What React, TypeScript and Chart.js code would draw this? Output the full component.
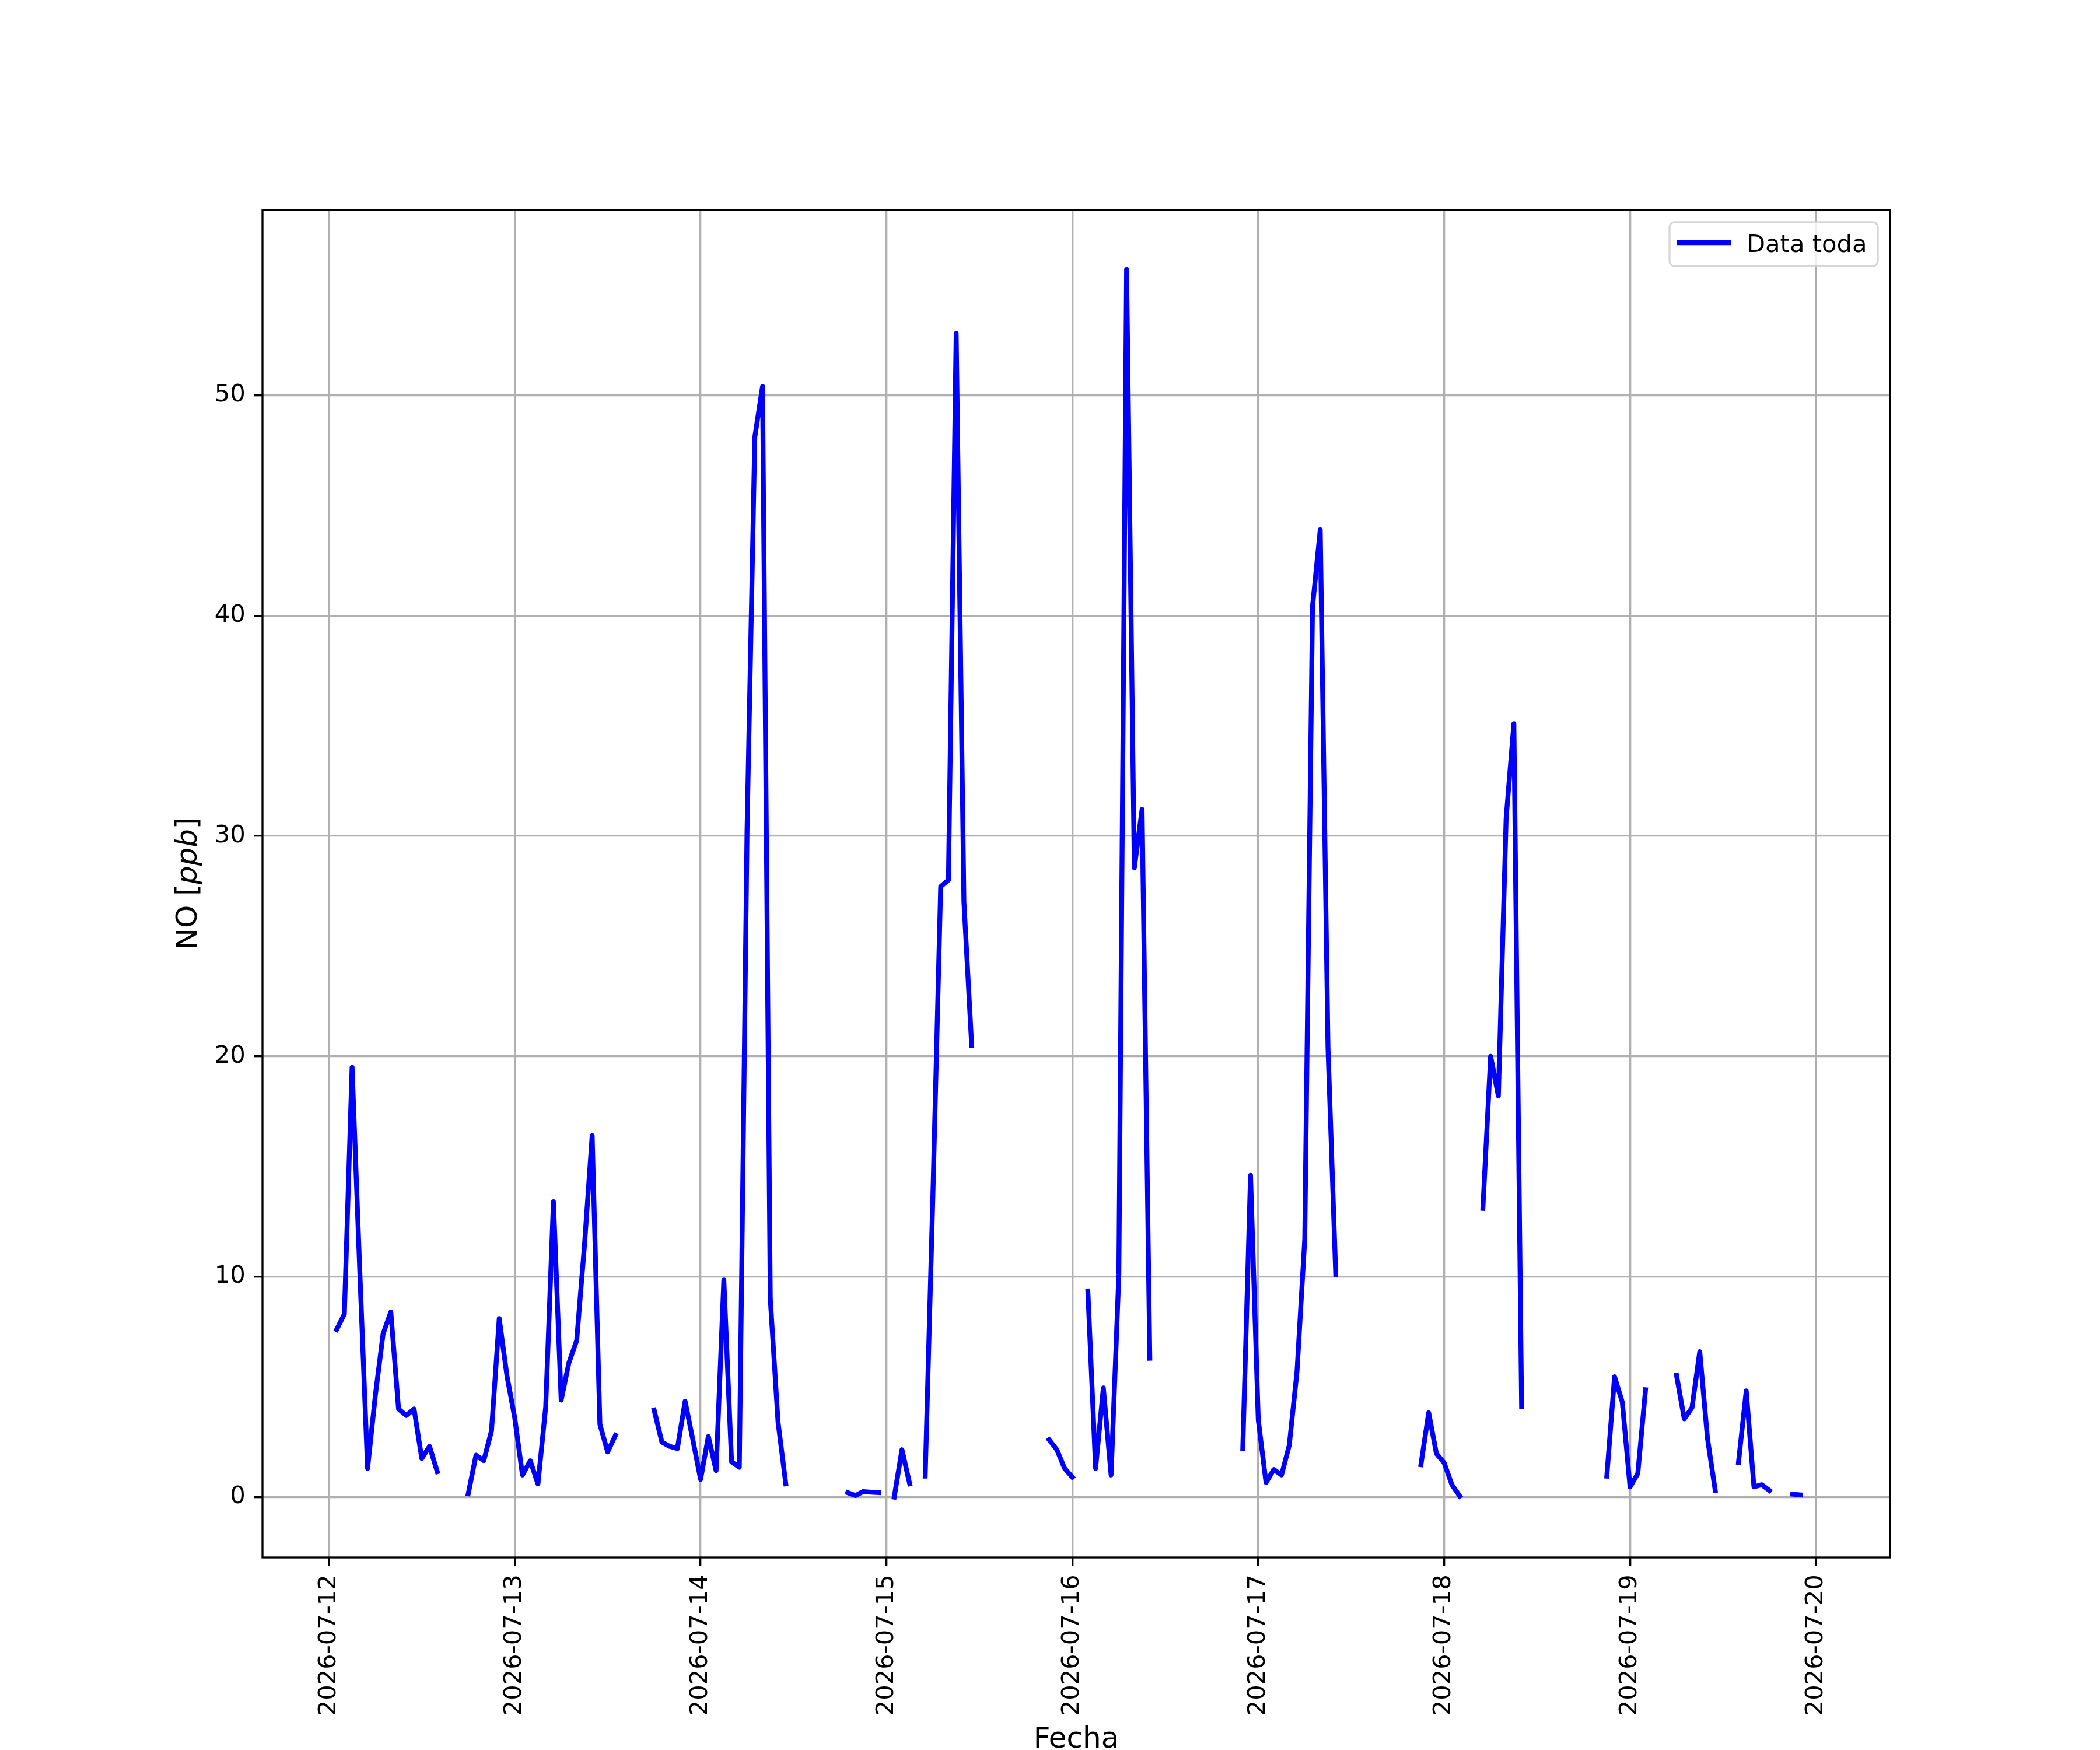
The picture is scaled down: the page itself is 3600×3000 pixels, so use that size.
import React, { useEffect, useRef } from 'react';
import { Chart, registerables } from 'chart.js';

Chart.register(...registerables);

// Tick labels (one per day, at 00:00)
const dateLabels = [
  '2026-07-12', '2026-07-13', '2026-07-14', '2026-07-15', '2026-07-16',
  '2026-07-17', '2026-07-18', '2026-07-19', '2026-07-20',
];
const yTicks = [0, 10, 20, 30, 40, 50];

// Hourly NO [ppb] values, hour 0..23 of each day (null = missing)
const no0712 = [null, 7.6, 8.3, 19.5, 10.2, 1.3, 4.6, 7.4, 8.4, 4.0, 3.7, 4.0, 1.75, 2.3, 1.15, null, null, null, 0.15, 1.9, 1.65, 3.0, 8.1, 5.5];
const no0713 = [3.6, 1.0, 1.65, 0.6, 4.1, 13.4, 4.4, 6.1, 7.1, 11.4, 16.4, 3.3, 2.05, 2.8, null, null, null, null, 3.95, 2.5, 2.3, 2.2, 4.35, 2.6];
const no0714 = [0.8, 2.75, 1.2, 9.85, 1.6, 1.35, 30.3, 48.1, 50.4, 9.0, 3.4, 0.6, null, null, null, null, null, null, null, 0.2, 0.07, 0.25, 0.22, 0.2];
const no0715 = [null, 0.0, 2.15, 0.6, null, 0.95, 13.8, 27.7, 28.0, 52.8, 27.0, 20.5, null, null, null, null, null, null, null, null, null, 2.6, 2.15, 1.3];
const no0716 = [0.9, null, 9.35, 1.3, 4.95, 1.0, 10.1, 55.7, 28.55, 31.2, 6.3, null, null, null, null, null, null, null, null, null, null, null, 2.2, 14.6];
const no0717 = [3.5, 0.66, 1.25, 1.0, 2.35, 5.7, 11.7, 40.4, 43.9, 20.4, 10.1, null, null, null, null, null, null, null, null, null, null, 1.47, 3.83, 1.97];
const no0718 = [1.55, 0.56, 0.05, null, null, 13.1, 20.0, 18.2, 30.8, 35.1, 4.1, null, null, null, null, null, null, null, null, null, null, 0.95, 5.46, 4.31];
const no0719 = [0.46, 1.07, 4.87, null, null, null, 5.53, 3.55, 4.06, 6.6, 2.66, 0.3, null, null, 1.57, 4.82, 0.46, 0.56, 0.3, null, null, 0.13, 0.1, null];
const no0720 = [null];

const days = [no0712, no0713, no0714, no0715, no0716, no0717, no0718, no0719, no0720];

const FS = 41.67;
const FS_LABEL = 50;
const FONT = `${FS}px "DejaVu Sans"`;
const FONT_LABEL = `${FS_LABEL}px "DejaVu Sans"`;
const FONT_LABEL_IT = `italic ${FS_LABEL}px "DejaVu Sans"`;

const decorPlugin = {
  id: 'decor',
  afterDraw(chart: any) {
    const ctx = chart.ctx as CanvasRenderingContext2D;
    const a = chart.chartArea;
    const xs = chart.scales.x;
    const ys = chart.scales.y;
    ctx.save();
    // frame (spines)
    ctx.strokeStyle = '#000';
    ctx.lineWidth = 3.33;
    ctx.strokeRect(a.left, a.top, a.right - a.left, a.bottom - a.top);

    // y tick labels
    ctx.fillStyle = '#000';
    ctx.font = FONT;
    ctx.textAlign = 'right';
    ctx.textBaseline = 'middle';
    yTicks.forEach((v) => {
      ctx.fillText(String(v), a.left - 29.2, ys.getPixelForValue(v));
    });

    // x tick labels, rotated 90
    dateLabels.forEach((lab, i) => {
      const x = xs.getPixelForValue(i * 24);
      ctx.save();
      ctx.translate(x, a.bottom + 29.2);
      ctx.rotate(-Math.PI / 2);
      ctx.textAlign = 'right';
      ctx.textBaseline = 'middle';
      ctx.fillText(lab, 0, 0);
      ctx.restore();
    });

    // x axis label
    ctx.font = FONT_LABEL;
    ctx.textAlign = 'center';
    ctx.textBaseline = 'alphabetic';
    ctx.fillText('Fecha', (a.left + a.right) / 2, a.bottom + 326);

    // y axis label with italic part
    const parts = [
      { t: 'NO [', f: FONT_LABEL },
      { t: 'ppb', f: FONT_LABEL_IT },
      { t: ']', f: FONT_LABEL },
    ];
    let total = 0;
    const widths = parts.map((p) => {
      ctx.font = p.f;
      const w = ctx.measureText(p.t).width;
      total += w;
      return w;
    });
    ctx.save();
    ctx.translate(a.left - 113, (a.top + a.bottom) / 2);
    ctx.rotate(-Math.PI / 2);
    ctx.textAlign = 'left';
    ctx.textBaseline = 'alphabetic';
    let cx = -total / 2;
    parts.forEach((p, i) => {
      ctx.font = p.f;
      ctx.fillText(p.t, cx, 0);
      cx += widths[i];
    });
    ctx.restore();

    // legend
    const bw = 357, bh = 75;
    const bx = a.right - 21 - bw;
    const by = a.top + 21;
    ctx.beginPath();
    (ctx as any).roundRect(bx, by, bw, bh, 8.3);
    ctx.fillStyle = 'rgba(255,255,255,0.8)';
    ctx.fill();
    ctx.strokeStyle = 'rgba(204,204,204,0.8)';
    ctx.lineWidth = 3.33;
    ctx.stroke();
    ctx.beginPath();
    ctx.moveTo(bx + 13, by + 35);
    ctx.lineTo(bx + 105, by + 35);
    ctx.strokeStyle = '#0000ff';
    ctx.lineWidth = 8.33;
    ctx.lineCap = 'butt';
    ctx.stroke();
    ctx.fillStyle = '#000';
    ctx.font = FONT;
    ctx.textAlign = 'left';
    ctx.textBaseline = 'alphabetic';
    ctx.fillText('Data toda', bx + 132, by + 51);

    ctx.restore();
  },
};

export default function App() {
  const ref = useRef<HTMLCanvasElement | null>(null);

  useEffect(() => {
    if (!ref.current) return;
    const points: { x: number; y: number | null }[] = [];
    days.forEach((vals, d) => {
      vals.forEach((v, h) => {
        points.push({ x: d * 24 + h, y: v });
      });
    });

    const gridOpts = {
      color: '#b0b0b0',
      lineWidth: 3.33,
      drawTicks: true,
      tickLength: 14.6,
      tickColor: '#000',
      tickWidth: 3.33,
    };

    const chart = new Chart(ref.current, {
      type: 'line',
      data: {
        datasets: [
          {
            label: 'Data toda',
            data: points as any,
            borderColor: '#0000ff',
            backgroundColor: '#0000ff',
            borderWidth: 8.33,
            pointRadius: 0,
            pointHoverRadius: 0,
            tension: 0,
            spanGaps: false,
            fill: false,
            borderJoinStyle: 'round',
            borderCapStyle: 'square',
          },
        ],
      },
      options: {
        responsive: false,
        devicePixelRatio: 1,
        animation: false,
        events: [],
        layout: { padding: { left: 0, top: 360, right: 360, bottom: 0 } },
        plugins: {
          legend: { display: false },
          tooltip: { enabled: false },
        },
        scales: {
          x: {
            type: 'linear',
            min: -8.57,
            max: 201.57,
            afterBuildTicks: (s: any) => {
              s.ticks = dateLabels.map((_, i) => ({ value: i * 24 }));
            },
            afterFit: (s: any) => {
              s.height = 330;
            },
            ticks: { display: false },
            grid: gridOpts,
            border: { display: false },
          },
          y: {
            type: 'linear',
            min: -2.74,
            max: 58.4,
            afterBuildTicks: (s: any) => {
              s.ticks = yTicks.map((v) => ({ value: v }));
            },
            afterFit: (s: any) => {
              s.width = 450;
            },
            ticks: { display: false },
            grid: gridOpts,
            border: { display: false },
          },
        },
      } as any,
      plugins: [decorPlugin],
    });
    return () => chart.destroy();
  }, []);

  return (
    <div style={{ position: 'absolute', left: 0, top: 0, width: 3600, height: 3000, background: '#fff' }}>
      <canvas ref={ref} width={3600} height={3000} style={{ width: 3600, height: 3000, display: 'block' }} />
    </div>
  );
}
